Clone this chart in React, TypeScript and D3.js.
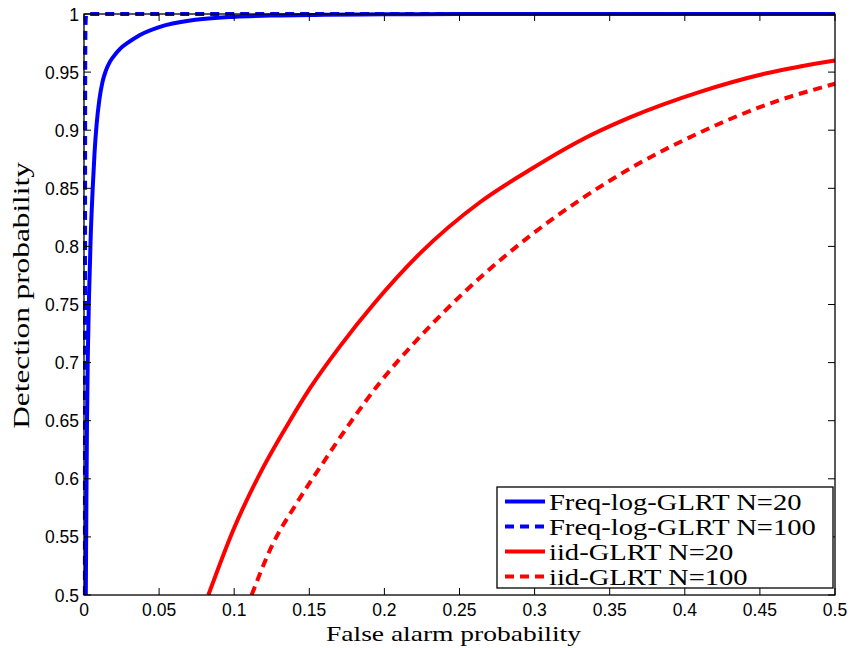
import React from "react";
import * as d3 from "d3";

// ROC curves
const freq20Pfa = [0.0012, 0.0016, 0.002, 0.0026, 0.0034, 0.0045, 0.0058, 0.007, 0.0084, 0.0102, 0.0124, 0.0145, 0.0173, 0.02, 0.024, 0.03, 0.0373, 0.0506, 0.0728, 0.1005, 0.13, 0.16, 0.2, 0.25, 0.3, 0.4, 0.5];
const freq20Pd = [0.5, 0.58, 0.65, 0.71, 0.76, 0.81, 0.85, 0.88, 0.905, 0.926, 0.942, 0.951, 0.959, 0.964, 0.970, 0.976, 0.982, 0.989, 0.9948, 0.9977, 0.9988, 0.9993, 0.9997, 0.9999, 1, 1, 1];

const freq100Pfa = [0.0006, 0.0007, 0.0008, 0.001, 0.0015, 0.5];
const freq100Pd = [0.5, 0.8, 0.95, 0.99, 1, 1];

const iid20Pfa = [0.0828, 0.0994, 0.1194, 0.1371, 0.1505, 0.1704, 0.1926, 0.2237, 0.2636, 0.2969, 0.3302, 0.3635, 0.4101, 0.4545, 0.5];
const iid20Pd = [0.5, 0.556, 0.61, 0.65, 0.678, 0.714, 0.75, 0.794, 0.838, 0.866, 0.891, 0.911, 0.933, 0.949, 0.96];

const iid100Pfa = [0.1116, 0.125, 0.1416, 0.1593, 0.1771, 0.1971, 0.2192, 0.2415, 0.2636, 0.2969, 0.3302, 0.3635, 0.4101, 0.4545, 0.5];
const iid100Pd = [0.5, 0.542, 0.579, 0.614, 0.648, 0.683, 0.716, 0.746, 0.773, 0.809, 0.84, 0.867, 0.898, 0.922, 0.94];

const seriesNames = ["Freq-log-GLRT N=20", "Freq-log-GLRT N=100", "iid-GLRT N=20", "iid-GLRT N=100"];

const xTicks = [0, 0.05, 0.1, 0.15, 0.2, 0.25, 0.3, 0.35, 0.4, 0.45, 0.5];
const xTickLabels = ["0", "0.05", "0.1", "0.15", "0.2", "0.25", "0.3", "0.35", "0.4", "0.45", "0.5"];
const yTicks = [0.5, 0.55, 0.6, 0.65, 0.7, 0.75, 0.8, 0.85, 0.9, 0.95, 1];
const yTickLabels = ["0.5", "0.55", "0.6", "0.65", "0.7", "0.75", "0.8", "0.85", "0.9", "0.95", "1"];

const W = 850;
const H = 648;
const margin = { top: 14, right: 15, bottom: 53, left: 84 };
const serif = "'Liberation Serif', 'Times New Roman', serif";
const sans = "'Liberation Sans', Arial, Helvetica, sans-serif";

export default function App() {
  const x = d3.scaleLinear().domain([0, 0.5]).range([margin.left, W - margin.right]);
  const y = d3.scaleLinear().domain([0.5, 1]).range([H - margin.bottom, margin.top]);

  const line = d3
    .line<[number, number]>()
    .x((d) => x(d[0]))
    .y((d) => y(d[1]))
    .curve(d3.curveMonotoneX);

  const zip = (a: number[], b: number[]) => a.map((v, i) => [v, b[i]] as [number, number]);

  const series = [
    { name: seriesNames[0], pts: zip(freq20Pfa, freq20Pd), color: "#0000ff", dash: null },
    { name: seriesNames[1], pts: zip(freq100Pfa, freq100Pd), color: "#0000ff", dash: "9,6" },
    { name: seriesNames[2], pts: zip(iid20Pfa, iid20Pd), color: "#ff0000", dash: null },
    { name: seriesNames[3], pts: zip(iid100Pfa, iid100Pd), color: "#ff0000", dash: "9,6" },
  ];

  const [x0, x1] = x.range();
  const [y0, y1] = y.range(); // y0 bottom, y1 top
  const tickLen = 7;

  // legend box
  const lg = { x: 497, y: 487, w: 336, h: 101, row: 25 };

  return (
    <svg width={W} height={H} style={{ position: "absolute", left: 0, top: 0, background: "#fff" }}>
      <defs>
        <clipPath id="plot-clip">
          <rect x={x0 - 3} y={y1 - 3} width={x1 - x0 + 6} height={y0 - y1 + 3} />
        </clipPath>
      </defs>
      <rect x={0} y={0} width={W} height={H} fill="#fff" />

      {/* curves */}
      <g clipPath="url(#plot-clip)">
        {series.map((s) => (
          <path
            key={s.name}
            d={line(s.pts) || ""}
            fill="none"
            stroke={s.color}
            strokeWidth={4}
            strokeDasharray={s.dash || undefined}
            strokeLinejoin="round"
          />
        ))}
      </g>

      {/* axes box */}
      <rect x={x0} y={y1} width={x1 - x0} height={y0 - y1} fill="none" stroke="#000" strokeWidth={1.3} />

      {/* x ticks */}
      {xTicks.map((t, i) => (
        <g key={"xt" + i}>
          <line x1={x(t)} x2={x(t)} y1={y0} y2={y0 - tickLen} stroke="#000" />
          <line x1={x(t)} x2={x(t)} y1={y1} y2={y1 + tickLen} stroke="#000" />
          <text x={x(t)} y={y0 + 21} textAnchor="middle" fontFamily={sans} fontSize={17.5} fill="#000">
            {xTickLabels[i]}
          </text>
        </g>
      ))}

      {/* y ticks */}
      {yTicks.map((t, i) => (
        <g key={"yt" + i}>
          <line x1={x0} x2={x0 + tickLen} y1={y(t)} y2={y(t)} stroke="#000" />
          <line x1={x1} x2={x1 - tickLen} y1={y(t)} y2={y(t)} stroke="#000" />
          <text x={x0 - 5} y={y(t) + 6.5} textAnchor="end" fontFamily={sans} fontSize={17.5} fill="#000">
            {yTickLabels[i]}
          </text>
        </g>
      ))}

      {/* axis labels */}
      <g transform={`translate(${(x0 + x1) / 2 - 6}, ${H - 7}) scale(1.25, 1)`}>
        <text textAnchor="middle" fontFamily={serif} fontSize={22} fill="#000">
          False alarm probability
        </text>
      </g>
      <g transform={`translate(29, ${(y0 + y1) / 2 - 9}) rotate(-90) scale(1.36, 1)`}>
        <text textAnchor="middle" fontFamily={serif} fontSize={23} fill="#000">
          Detection probability
        </text>
      </g>

      {/* legend */}
      <g>
        <rect x={lg.x} y={lg.y} width={lg.w} height={lg.h} fill="#fff" stroke="#000" strokeWidth={1.3} />
        {series.map((s, i) => {
          const cy = lg.y + 14.5 + i * lg.row;
          return (
            <g key={"lg" + i}>
              <line
                x1={lg.x + 8}
                x2={lg.x + 48}
                y1={cy}
                y2={cy}
                stroke={s.color}
                strokeWidth={4}
                strokeDasharray={s.dash || undefined}
              />
              <g transform={`translate(${lg.x + 52}, ${cy + 8}) scale(1.19, 1)`}>
                <text fontFamily={serif} fontSize={24} fill="#000">
                  {s.name}
                </text>
              </g>
            </g>
          );
        })}
      </g>
    </svg>
  );
}
